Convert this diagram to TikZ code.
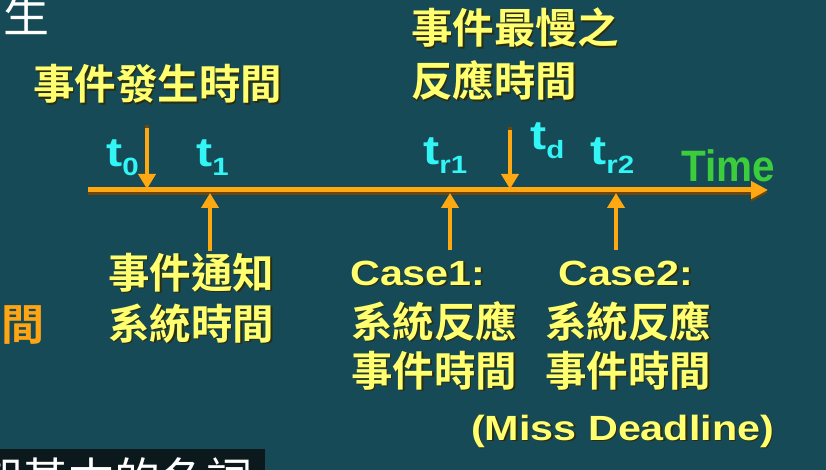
\documentclass[tikz,border=0pt]{standalone}
\usepackage{fontspec}
\setmainfont{Liberation Sans}
\newfontfamily\cjk{Noto Sans CJK TC}[BoldFont=* Bold]
\newfontfamily\latw{Liberation Sans}[FakeStretch=1.18]
\newfontfamily\latn{Liberation Sans}[FakeStretch=0.92]
\usetikzlibrary{arrows.meta}

\definecolor{bgteal}{RGB}{21,74,86}
\definecolor{ylw}{RGB}{255,255,112}
\definecolor{txtshadow}{RGB}{45,45,12}
\definecolor{tick}{RGB}{255,168,18}
\definecolor{tickshadow}{RGB}{110,70,10}
\definecolor{cyn}{RGB}{50,245,245}
\definecolor{grn}{RGB}{60,205,60}
\definecolor{org}{RGB}{255,165,20}
\definecolor{barblack}{RGB}{11,24,28}

% yellow text with a small dark drop shadow
\newcommand\shd[1]{\makebox[0pt][l]{\hspace{1.5pt}\raisebox{-1.5pt}{\color{txtshadow}#1}}#1}
\newcommand\tlab[2]{\fontsize{41}{44}\selectfont t\raisebox{-9pt}{\fontsize{25}{26}\selectfont #2}}

\tikzset{
  cjklab/.style={anchor=base west, inner sep=0pt, text=ylw,
    font=\cjk\bfseries\fontsize{41.5}{48}\selectfont},
  caselab/.style={anchor=base west, inner sep=0pt, text=ylw,
    font=\latw\bfseries\fontsize{35}{40}\selectfont},
  tname/.style={anchor=base west, inner sep=0pt, text=cyn, font=\latw\bfseries},
  tickarrow/.style={draw=tick, line width=4.5pt,
    -{Triangle[length=15pt,width=17pt]}},
}

\begin{document}
\begin{tikzpicture}[x=1pt,y=-1pt]
\useasboundingbox (0,0) rectangle (826,470);
\fill[bgteal] (0,0) rectangle (826,470);

% partial heading and side text
\node[anchor=base west, inner sep=0pt, text=white,
  font=\cjk\fontsize{46}{50}\selectfont] (hd) at (3,33) {生};
\node[anchor=base west, inner sep=0pt, text=org,
  font=\cjk\bfseries\fontsize{43}{48}\selectfont] (side) at (1,340) {間};

% caption bar at the bottom
\fill[barblack] (0,449) rectangle (265,470);
\begin{scope}
  \clip (0,449) rectangle (265,470);
  \node[anchor=base west, inner sep=0pt, text=white,
    font=\cjk\fontsize{46}{50}\selectfont] (cap) at (-24,496) {期基本的名詞};
\end{scope}

% time axis
\coordinate (axs) at (88,190);
\coordinate (axe) at (768,190);
\draw[tickshadow, line width=5pt, -{Triangle[length=17pt,width=17pt]}]
  ([yshift=-2.5pt]axs) -- ([yshift=-2.5pt]axe);
\draw[tick, line width=5pt, -{Triangle[length=17pt,width=17pt]}] (axs) -- (axe);
\node[anchor=base west, inner sep=0pt, text=grn,
  font=\latn\bfseries\fontsize{44}{48}\selectfont] (time) at (681,182) {Time};

% tick arrows
\coordinate (t0a) at (147,128);  \coordinate (t0b) at (147,189);
\coordinate (tda) at (510,130);  \coordinate (tdb) at (510,189);
\coordinate (t1a) at (210,251);  \coordinate (t1b) at (210,193);
\coordinate (r1a) at (450,250);  \coordinate (r1b) at (450,193);
\coordinate (r2a) at (616,250);  \coordinate (r2b) at (616,193);
\fill[tickshadow] ([xshift=-2.25pt]t0a) rectangle ([xshift=2.25pt,yshift=3pt]t0a);
\fill[tickshadow] ([xshift=-2.25pt]tda) rectangle ([xshift=2.25pt,yshift=3pt]tda);
\draw[tickarrow] (t0a) -- (t0b);
\draw[tickarrow] (tda) -- (tdb);
\draw[tickarrow] (t1a) -- (t1b);
\draw[tickarrow] (r1a) -- (r1b);
\draw[tickarrow] (r2a) -- (r2b);

% tick names
\node[tname] (n0) at (106,167) {\tlab{t}{0}};
\node[tname] (n1) at (196,167) {\tlab{t}{1}};
\node[tname] (nr1) at (423,165) {\tlab{t}{r1}};
\node[tname] (nd) at (530,150) {\tlab{t}{d}};
\node[tname] (nr2) at (590,165) {\tlab{t}{r2}};

% labels above the axis
\node[cjklab] (occ) at (33,100) {\shd{事件發生時間}};
\node[cjklab] (slow1) at (411,44) {\shd{事件最慢之}};
\node[cjklab] (slow2) at (411,97) {\shd{反應時間}};

% labels below the axis
\node[cjklab] (note1) at (108,288) {\shd{事件通知}};
\node[cjklab] (note2) at (108,339) {\shd{系統時間}};

\node[caselab] (c1) at (350,285) {\shd{Case1:}};
\node[cjklab] (c1a) at (351,337) {\shd{系統反應}};
\node[cjklab] (c1b) at (351,386) {\shd{事件時間}};

\node[caselab] (c2) at (558,285) {\shd{Case2:}};
\node[cjklab] (c2a) at (545,337) {\shd{系統反應}};
\node[cjklab] (c2b) at (545,386) {\shd{事件時間}};

\node[caselab] (miss) at (471,440) {\shd{(Miss Deadline)}};
\end{tikzpicture}
\end{document}
